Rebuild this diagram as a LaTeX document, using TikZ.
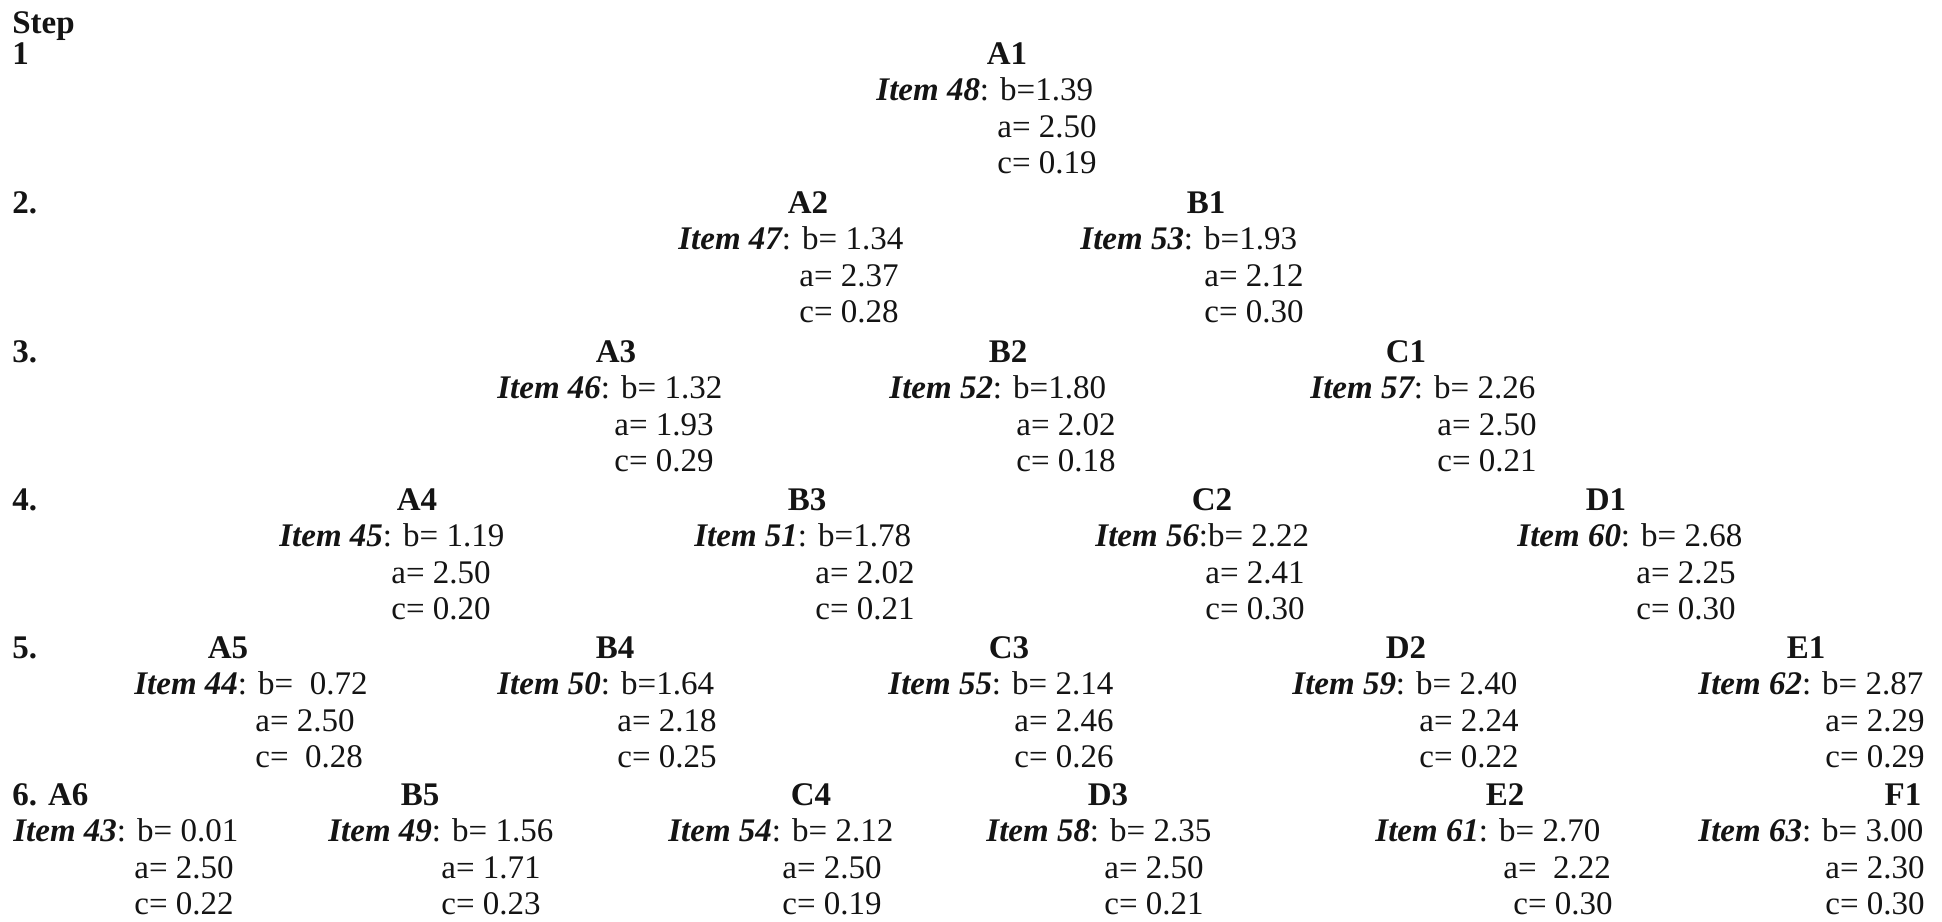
\documentclass[tikz,border=0pt]{standalone}
\usepackage{fontspec}
\setmainfont{Liberation Serif}
\definecolor{ink}{HTML}{141414}
\newcommand\blk[6]{%
  \node[ttl] (#1) at (#3,#2) {#4};
  \node[txt] (#1i) at (#5,#2+36.5) {#6};}
\newcommand\vals[6]{%
  \node[txt] (#1a) at (#3,#2+73) {#4};
  \node[txt] (#1c) at (#5,#2+109.5) {#6};}
\newcommand\itm[1]{{\bfseries\itshape Item #1}}
\begin{document}
\begin{tikzpicture}[x=0.5pt,y=-0.5pt,
  txt/.style={anchor=base west,inner sep=0pt,text=ink,font=\fontsize{16.5}{19}\selectfont},
  ttl/.style={anchor=base,inner sep=0pt,text=ink,font=\fontsize{16.5}{19}\selectfont\bfseries},
  lbl/.style={anchor=base west,inner sep=0pt,text=ink,font=\fontsize{16.5}{19}\selectfont\bfseries}]
\useasboundingbox[fill=white] (0,0) rectangle (1942,921);
% step labels
\node[lbl] (step) at (12,33) {Step};
\node[lbl] (s1) at (12,64) {1};
\node[lbl] (s2) at (12,213) {2.};
\node[lbl] (s3) at (12,362) {3.};
\node[lbl] (s4) at (12,510) {4.};
\node[lbl] (s5) at (12,658) {5.};
\node[lbl] (s6) at (12,805) {6. A6};
% row 1
\blk{A1}{64}{1007}{A1}{876}{\itm{48}: b=1.39}
\vals{A1}{64}{997}{a= 2.50}{997}{c= 0.19}
% row 2
\blk{A2}{213}{808}{A2}{678}{\itm{47}: b= 1.34}
\vals{A2}{213}{799}{a= 2.37}{799}{c= 0.28}
\blk{B1}{213}{1206}{B1}{1080}{\itm{53}: b=1.93}
\vals{B1}{213}{1204}{a= 2.12}{1204}{c= 0.30}
% row 3
\blk{A3}{362}{616}{A3}{497}{\itm{46}: b= 1.32}
\vals{A3}{362}{614}{a= 1.93}{614}{c= 0.29}
\blk{B2}{362}{1008}{B2}{889}{\itm{52}: b=1.80}
\vals{B2}{362}{1016}{a= 2.02}{1016}{c= 0.18}
\blk{C1}{362}{1406}{C1}{1310}{\itm{57}: b= 2.26}
\vals{C1}{362}{1437}{a= 2.50}{1437}{c= 0.21}
% row 4
\blk{A4}{510}{417}{A4}{279}{\itm{45}: b= 1.19}
\vals{A4}{510}{391}{a= 2.50}{391}{c= 0.20}
\blk{B3}{510}{807}{B3}{694}{\itm{51}: b=1.78}
\vals{B3}{510}{815}{a= 2.02}{815}{c= 0.21}
\blk{C2}{510}{1212}{C2}{1095}{\itm{56}:b= 2.22}
\vals{C2}{510}{1205}{a= 2.41}{1205}{c= 0.30}
\blk{D1}{510}{1606}{D1}{1517}{\itm{60}: b= 2.68}
\vals{D1}{510}{1636}{a= 2.25}{1636}{c= 0.30}
% row 5
\blk{A5}{658}{228}{A5}{134}{\itm{44}: b= \ 0.72}
\vals{A5}{658}{255}{a= 2.50}{255}{c= \ 0.28}
\blk{B4}{658}{615}{B4}{497}{\itm{50}: b=1.64}
\vals{B4}{658}{617}{a= 2.18}{617}{c= 0.25}
\blk{C3}{658}{1009}{C3}{888}{\itm{55}: b= 2.14}
\vals{C3}{658}{1014}{a= 2.46}{1014}{c= 0.26}
\blk{D2}{658}{1406}{D2}{1292}{\itm{59}: b= 2.40}
\vals{D2}{658}{1419}{a= 2.24}{1419}{c= 0.22}
\blk{E1}{658}{1806}{E1}{1698}{\itm{62}: b= 2.87}
\vals{E1}{658}{1825}{a= 2.29}{1825}{c= 0.29}
% row 6
\node[txt] (A6i) at (13,841.5) {\itm{43}: b= 0.01};
\vals{A6}{805}{134}{a= 2.50}{134}{c= 0.22}
\blk{B5}{805}{420}{B5}{328}{\itm{49}: b= 1.56}
\vals{B5}{805}{441}{a= 1.71}{441}{c= 0.23}
\blk{C4}{805}{811}{C4}{668}{\itm{54}: b= 2.12}
\vals{C4}{805}{782}{a= 2.50}{782}{c= 0.19}
\blk{D3}{805}{1108}{D3}{986}{\itm{58}: b= 2.35}
\vals{D3}{805}{1104}{a= 2.50}{1104}{c= 0.21}
\blk{E2}{805}{1505}{E2}{1375}{\itm{61}: b= 2.70}
\vals{E2}{805}{1503}{a= \ 2.22}{1513}{c= 0.30}
\blk{F1}{805}{1903}{F1}{1698}{\itm{63}: b= 3.00}
\vals{F1}{805}{1825}{a= 2.30}{1825}{c= 0.30}
\end{tikzpicture}
\end{document}
